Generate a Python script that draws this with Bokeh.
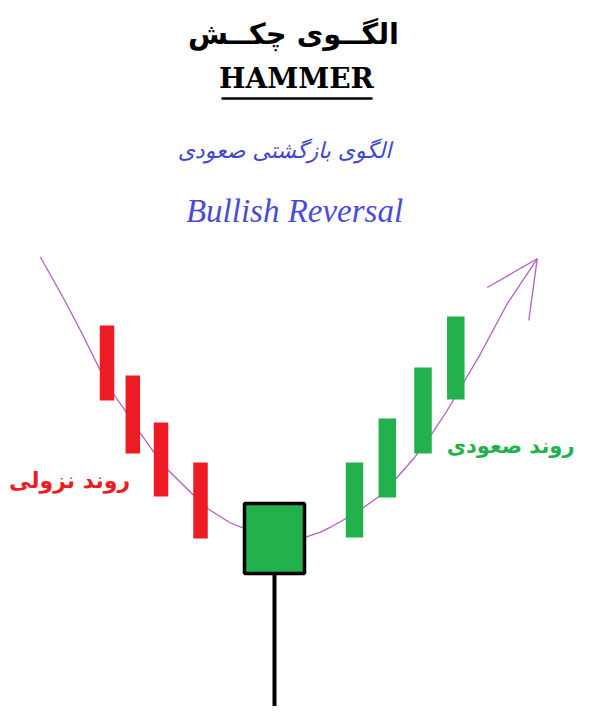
from bokeh.plotting import figure
from bokeh.models import Range1d
from bokeh.core.properties import value
from bokeh.embed import file_html
from bokeh.resources import INLINE

# ---- data (schematic price units; x = time position) ----
red_x = [106.5, 132.3, 160.5, 200.0]
red_open = [397, 347, 300, 260]
red_close = [322, 269, 226, 184]

green_x = [354.0, 386.8, 422.5, 455.3]
green_open = [185, 225, 269, 323]
green_close = [260, 304, 355, 406]

hammer_x = [274.0]
hammer_open = [149]
hammer_close = [219]
hammer_high = [219]
hammer_low = [0]

curve_x = [40, 63.3, 80, 99, 114, 125.7, 139, 153.3, 168, 193.3, 207.3, 230, 245, 270, 300,
           320, 330, 345, 363.3, 380, 396.7, 414.3, 431.3, 446.7, 464.3, 480, 506.7, 536.7]
curve_y = [465.3, 423.7, 392, 353.7, 327, 310.3, 290.3, 270.3, 252, 227, 213.7, 199.5, 193.7,
           183.7, 183.7, 190.3, 195.3, 203.7, 215.3, 227, 245.3, 265.3, 288.7, 312, 342, 368.7,
           418.7, 463.7]
arrow_tip = (536.7, 463.7)
arrow_barb_x = [486.7, 528.3]
arrow_barb_y = [435.0, 402.0]

title_fa = "الگــوی چکــش"
title_en = "HAMMER"
subtitle_fa = "الگوی بازگشتی صعودی"
subtitle_en = "Bullish Reversal"
down_label = "روند نزولی"
up_label = "روند صعودی"

RED = "#ed1c24"
GREEN = "#22b14c"
PURPLE = "#b060c0"
BLUE = "#3f48cc"

p = figure(width=577, height=706, output_backend="svg", toolbar_location=None,
           x_range=Range1d(0, 577), y_range=Range1d(16, 722), min_border=0)
p.axis.visible = False
p.grid.visible = False
p.outline_line_color = None
p.background_fill_color = "white"

# trend curve
p.line(curve_x, curve_y, line_color=PURPLE, line_width=1.3)
p.segment(x0=[arrow_tip[0]] * 2, y0=[arrow_tip[1]] * 2, x1=arrow_barb_x, y1=arrow_barb_y,
          line_color=PURPLE, line_width=1.3)

# red candles
p.vbar(x=red_x, width=14.5, top=red_open, bottom=red_close, fill_color=RED, line_color=None)
# green candles
p.vbar(x=green_x, width=17.5, top=green_close, bottom=green_open, fill_color=GREEN, line_color=None)
# hammer
p.segment(x0=hammer_x, y0=hammer_low, x1=hammer_x, y1=hammer_open, line_color="black", line_width=4)
p.vbar(x=hammer_x, width=60, top=hammer_close, bottom=hammer_open, fill_color=GREEN,
       line_color="black", line_width=3.5)

# titles
p.text(x=[293], y=[689], text=[title_fa], text_align="center", text_baseline="middle",
       text_font=value("DejaVu Sans"), text_font_style="bold", text_font_size="29px",
       text_color="black")
p.text(x=[296], y=[644], text=[title_en], text_align="center", text_baseline="middle",
       text_font=value("DejaVu Serif"), text_font_style="bold", text_font_size="28px",
       text_color="black")
p.segment(x0=[221], y0=[624], x1=[372], y1=[624], line_color="black", line_width=2.5)
p.text(x=[284], y=[572], text=[subtitle_fa], text_align="center", text_baseline="middle",
       text_font=value("DejaVu Sans"), text_font_style="italic", text_font_size="22px",
       text_color=BLUE)
p.text(x=[294], y=[512], text=[subtitle_en], text_align="center", text_baseline="middle",
       text_font=value("Liberation Serif"), text_font_style="italic", text_font_size="33px",
       text_color="#4b4bd8")

# trend labels
p.text(x=[69], y=[242], text=[down_label], text_align="center", text_baseline="middle",
       text_font=value("DejaVu Sans"), text_font_style="bold", text_font_size="22px",
       text_color=RED)
p.text(x=[574], y=[277], text=[up_label], text_align="right", text_baseline="middle",
       text_font=value("DejaVu Sans"), text_font_style="bold", text_font_size="21px",
       text_color=GREEN)

open("out.html", "w").write(file_html(p, INLINE))
